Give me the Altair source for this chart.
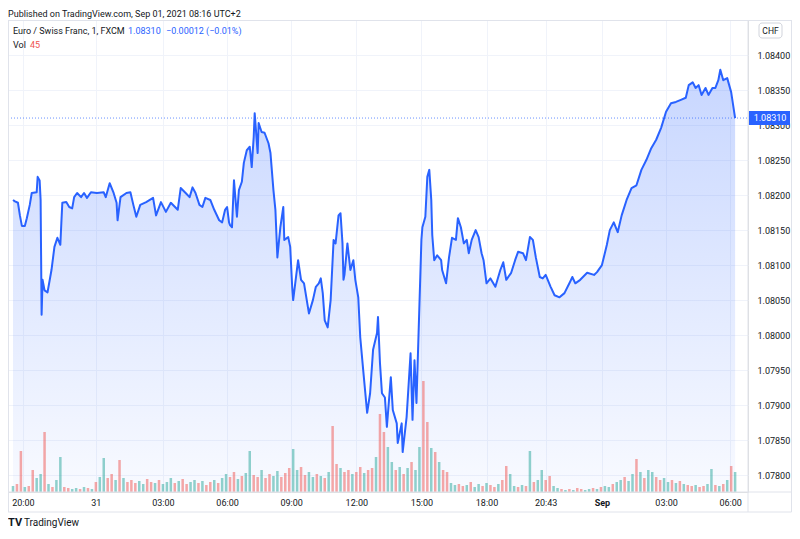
import altair as alt
import pandas as pd

# ---------------- data ----------------
# x is a bar index of the 1-minute chart (time scale is bar based, with gaps)
bars = [0, 6, 15, 21, 27, 36, 42, 51, 57, 72, 75, 81, 84, 87, 90, 96, 105, 117, 126, 135,
        144, 147, 150, 162, 171, 180, 186, 195, 207, 216, 225, 237, 255, 276, 282, 294, 306, 315, 318, 327,
        345, 357, 366, 375, 387, 405, 426, 435, 450, 465, 480, 501, 510, 525, 537, 546, 555, 567, 576, 585,
        600, 612, 627, 636, 645, 651, 657, 660, 666, 672, 681, 687, 696, 702, 711, 720, 726, 732, 735, 744,
        747, 756, 765, 777, 783, 792, 798, 804, 813, 822, 825, 837, 843, 849, 852, 867, 876, 885, 900, 912,
        921, 930, 936, 942, 948, 957, 966, 975, 981, 990, 996, 1002, 1005, 1008, 1017, 1026, 1035, 1041, 1050, 1056,
        1065, 1077, 1086, 1095, 1107, 1110, 1116, 1122, 1131, 1137, 1149, 1155, 1167, 1170, 1182, 1185, 1197, 1209, 1215, 1221,
        1227, 1233, 1242, 1245, 1254, 1260, 1266, 1272, 1275, 1281, 1290, 1302, 1305, 1317, 1326, 1335, 1347, 1353, 1362, 1371,
        1380, 1386, 1395, 1407, 1416, 1425, 1431, 1440, 1452, 1467, 1482, 1491, 1500, 1515, 1527, 1536, 1551, 1560, 1572, 1581,
        1590, 1602, 1611, 1620, 1635, 1647, 1662, 1677, 1692, 1701, 1710, 1725, 1746, 1767, 1776, 1791, 1806, 1815, 1827, 1839,
        1851, 1866, 1881, 1896, 1911, 1926, 1941, 1956, 1971, 1986, 2001, 2016, 2031, 2046, 2055, 2067, 2076, 2085, 2094, 2106,
        2115, 2127, 2136, 2145, 2151, 2160, 2172, 2184, 2196]

prices = [1.08193, 1.08191, 1.08189, 1.08171, 1.08156, 1.08156, 1.08167, 1.08186, 1.08203, 1.08204,
          1.08226, 1.08221, 1.08193, 1.08029, 1.08079, 1.08064, 1.08061, 1.08093, 1.08126, 1.08139,
          1.08129, 1.08160, 1.08189, 1.08190, 1.08183, 1.08181, 1.08197, 1.08203, 1.08197, 1.08203,
          1.08196, 1.08204, 1.08203, 1.08204, 1.08197, 1.08217, 1.08203, 1.08189, 1.08164, 1.08197,
          1.08203, 1.08204, 1.08186, 1.08169, 1.08186, 1.08190, 1.08196, 1.08171, 1.08190, 1.08176,
          1.08189, 1.08179, 1.08210, 1.08203, 1.08197, 1.08211, 1.08203, 1.08186, 1.08183, 1.08196,
          1.08193, 1.08179, 1.08164, 1.08161, 1.08179, 1.08183, 1.08161, 1.08157, 1.08154, 1.08221,
          1.08169, 1.08207, 1.08219, 1.08246, 1.08264, 1.08269, 1.08240, 1.08283, 1.08317, 1.08260,
          1.08303, 1.08290, 1.08289, 1.08274, 1.08260, 1.08207, 1.08179, 1.08111, 1.08154, 1.08183,
          1.08136, 1.08140, 1.08126, 1.08069, 1.08050, 1.08107, 1.08079, 1.08074, 1.08031, 1.08050,
          1.08069, 1.08074, 1.08081, 1.08060, 1.08021, 1.08011, 1.08050, 1.08136, 1.08131, 1.08171,
          1.08174, 1.08131, 1.08079, 1.08086, 1.08131, 1.08093, 1.08107, 1.08079, 1.08054, 1.07997,
          1.07950, 1.07889, 1.07917, 1.07979, 1.08003, 1.08026, 1.07960, 1.07917, 1.07911, 1.07869,
          1.07940, 1.07893, 1.07874, 1.07846, 1.07874, 1.07833, 1.07883, 1.07974, 1.07879, 1.07964,
          1.07903, 1.07997, 1.08136, 1.08154, 1.08169, 1.08226, 1.08236, 1.08193, 1.08143, 1.08107,
          1.08114, 1.08107, 1.08093, 1.08074, 1.08111, 1.08139, 1.08136, 1.08167, 1.08154, 1.08131,
          1.08136, 1.08117, 1.08136, 1.08150, 1.08140, 1.08117, 1.08107, 1.08074, 1.08081, 1.08069,
          1.08093, 1.08104, 1.08079, 1.08089, 1.08107, 1.08119, 1.08117, 1.08107, 1.08140, 1.08136,
          1.08111, 1.08083, 1.08081, 1.08086, 1.08069, 1.08057, 1.08054, 1.08060, 1.08074, 1.08083,
          1.08074, 1.08079, 1.08089, 1.08086, 1.08090, 1.08100, 1.08129, 1.08150, 1.08161, 1.08147,
          1.08171, 1.08193, 1.08210, 1.08214, 1.08236, 1.08250, 1.08267, 1.08279, 1.08296, 1.08319,
          1.08331, 1.08333, 1.08336, 1.08339, 1.08357, 1.08361, 1.08353, 1.08357, 1.08343, 1.08353,
          1.08343, 1.08353, 1.08353, 1.08364, 1.08379, 1.08364, 1.08367, 1.08347, 1.08310]

# volume, one value per 12-bar bucket
volumes = [12, 16, 82, 10, 12, 44, 28, 36, 120, 16,
           10, 24, 70, 10, 8, 6, 8, 6, 10, 8,
           6, 20, 30, 68, 28, 36, 24, 64, 28, 20,
           24, 18, 22, 16, 26, 20, 18, 24, 16, 20,
           28, 18, 22, 26, 16, 20, 24, 18, 22, 14,
           20, 24, 18, 28, 36, 30, 40, 26, 32, 38,
           82, 34, 30, 44, 28, 36, 32, 42, 30, 38,
           48, 86, 44, 50, 34, 40, 30, 36, 32, 28,
           40, 132, 56, 48, 40, 44, 36, 40, 50, 38,
           44, 48, 70, 156, 120, 90, 60, 44, 50, 36,
           48, 60, 44, 90, 222, 140, 88, 80, 60, 44,
           40, 18, 14, 16, 12, 14, 20, 10, 16, 12,
           18, 14, 10, 16, 24, 52, 36, 12, 10, 14,
           12, 82, 20, 24, 44, 24, 32, 12, 8, 6,
           4, 6, 4, 8, 6, 4, 6, 8, 6, 10,
           12, 10, 16, 20, 24, 30, 22, 36, 66, 40,
           28, 44, 40, 30, 24, 28, 20, 24, 18, 22,
           16, 14, 12, 14, 10, 12, 16, 46, 14, 12,
           16, 24, 52, 40]
vol_dir = ("uddudduudu" "duudduudud" "uduuddudud" "dduudduduu" "ududduudud"
           "duduuddudu" "uddudduudd" "duudduudud" "uddudduddu" "ddudduudud"
           "uduuddudud" "duudduduud" "uddudduudu" "duduudduud" "ududduudud"
           "uuduuduudu" "duudduudud" "uddudduudu" "dudu")
vol_bucket = 12

xtick_pos = [30, 252, 456, 651, 846, 1044, 1242, 1440, 1620, 1791, 1986, 2181]
xtick_lab = ["20:00", "31", "03:00", "06:00", "09:00", "12:00", "15:00", "18:00",
             "20:43", "Sep", "03:00", "06:00"]
ytick = [1.0780, 1.0785, 1.0790, 1.0795, 1.0800, 1.0805, 1.0810,
         1.0815, 1.0820, 1.0825, 1.0830, 1.0835, 1.0840]
last_price = 1.08310
x_domain = [0, 2220]
y_domain = [1.07776, 1.08450]
vol_domain = [0, 944]

# ---------------- chart ----------------
FONT = "Roboto"
FS = 9
TXT = "#131722"
GRID = "#f0f3fa"
FRAME = "#e0e3eb"
BLUE = "#2962ff"

price_df = pd.DataFrame({"bar": bars, "price": prices})
vol_df = pd.DataFrame({"bar": [i * vol_bucket for i in range(len(volumes))],
                       "vol": volumes, "dir": list(vol_dir[:len(volumes)])})

xs = alt.Scale(domain=x_domain, nice=False, zero=False)
ys = alt.Scale(domain=y_domain, nice=False, zero=False)

label_expr = "{" + ",".join(f"'{p}':'{l}'" for p, l in zip(xtick_pos, xtick_lab)) + "}[datum.value]"
sep_pos = xtick_pos[xtick_lab.index("Sep")]

x_axis = alt.Axis(values=xtick_pos, labelExpr=label_expr, title=None, ticks=False, domain=False,
                  grid=True, gridColor=GRID, labelPadding=6, labelFontSize=FS, labelColor=TXT,
                  labelFont=FONT, labelFlush=False, labelOverlap=False,
                  labelFontWeight={"condition": {"test": f"datum.value == {sep_pos}", "value": "bold"},
                                   "value": "normal"})
y_axis = alt.Axis(values=ytick, format=".5f", orient="right", title=None, ticks=False, domain=False,
                  grid=True, gridColor=GRID, labelPadding=9, labelFontSize=FS, labelColor=TXT,
                  labelFont=FONT, labelOverlap=False)

area = alt.Chart(price_df).mark_area(
    line=False,
    color=alt.Gradient(gradient="linear",
                       stops=[alt.GradientStop(color="rgba(41,98,255,0.03)", offset=0),
                              alt.GradientStop(color="rgba(41,98,255,0.26)", offset=1)],
                       x1=1, x2=1, y1=1, y2=0)
).encode(
    x=alt.X("bar:Q", scale=xs, axis=x_axis),
    y=alt.Y("price:Q", scale=ys, axis=None),
    y2=alt.datum(y_domain[0]),
)

vol = alt.Chart(vol_df).mark_bar(size=2.5, opacity=0.5).encode(
    x=alt.X("bar:Q", scale=xs, axis=x_axis),
    y=alt.Y("vol:Q", scale=alt.Scale(domain=vol_domain, nice=False), axis=None),
    color=alt.Color("dir:N", scale=alt.Scale(domain=["u", "d"], range=["#26a69a", "#ef5350"]), legend=None),
)

line = alt.Chart(price_df).mark_line(color=BLUE, strokeWidth=2, strokeJoin="round").encode(
    x=alt.X("bar:Q", scale=xs, axis=x_axis),
    y=alt.Y("price:Q", scale=ys, axis=y_axis),
)

last_df = pd.DataFrame({"p": [last_price], "lab": [f"{last_price:.5f}"],
                        "hi": [last_price + 0.0001], "lo": [last_price - 0.0001]})
dotted = alt.Chart(last_df).mark_rule(color=BLUE, strokeDash=[1, 2], strokeWidth=1, opacity=0.7).encode(
    y=alt.Y("p:Q", scale=ys, axis=y_axis), x=alt.value(0), x2=alt.value(740))
plabel_box = alt.Chart(last_df).mark_rect(color=BLUE).encode(
    y=alt.Y("hi:Q", scale=ys, axis=y_axis), y2="lo:Q", x=alt.value(741), x2=alt.value(782))
plabel_txt = alt.Chart(last_df).mark_text(color="white", font=FONT, fontSize=FS, align="center",
                                          baseline="middle").encode(
    y=alt.Y("p:Q", scale=ys, axis=y_axis), x=alt.value(762), text="lab:N")

price_group = alt.layer(line, dotted, plabel_box, plabel_txt)


def txt(s, x, y, color=TXT, size=FS, weight="normal", align="left"):
    return alt.Chart(pd.DataFrame({"label": [s]})).mark_text(
        font=FONT, fontSize=size, color=color, fontWeight=weight, align=align, baseline="middle"
    ).encode(text="label:N", x=alt.value(x), y=alt.value(y))


def frame(x1, x2, y1, y2):
    return alt.Chart(pd.DataFrame({"a": [0]})).mark_rule(color=FRAME, strokeWidth=1).encode(
        x=alt.value(x1), x2=alt.value(x2), y=alt.value(y1), y2=alt.value(y2))


chf_box = alt.Chart(pd.DataFrame({"a": [0]})).mark_rect(
    fill="white", stroke="#d1d4dc", strokeWidth=1, cornerRadius=3).encode(
    x=alt.value(751), x2=alt.value(774), y=alt.value(3), y2=alt.value(18))

texts = alt.layer(
    txt("Published on TradingView.com, Sep 01, 2021 08:16 UTC+2", 0, -6.5),
    txt("Euro / Swiss Franc, 1, FXCM", 5, 11),
    txt("1.08310", 120, 11, color=BLUE),
    txt("\u22120.00012 (\u22120.01%)", 158, 11, color=BLUE),
    txt("Vol", 5, 25),
    txt("45", 22, 25, color="#ef5350"),
    chf_box,
    txt("CHF", 762.5, 10.5, size=8.5, align="center"),
    frame(0, 783.5, 0.5, 0.5),
    frame(0, 783.5, 472, 472),
    frame(0, 783.5, 492, 492),
    frame(0.5, 0.5, 0, 492),
    frame(740, 740, 0, 492),
    frame(783.5, 783.5, 0, 492),
    txt("TV", 0, 503, size=11, weight="bold"),
    txt("TradingView", 16, 503, size=10),
)

chart = alt.layer(area, vol, price_group, texts).resolve_scale(y="independent").properties(
    width=740, height=472,
    autosize=alt.AutoSizeParams(type="none"),
    padding={"left": 0, "top": 12, "right": 44, "bottom": 39},
).configure_view(stroke=None).configure(background="white")

chart.save("out.html", embed_options={"renderer": "svg", "actions": False})
